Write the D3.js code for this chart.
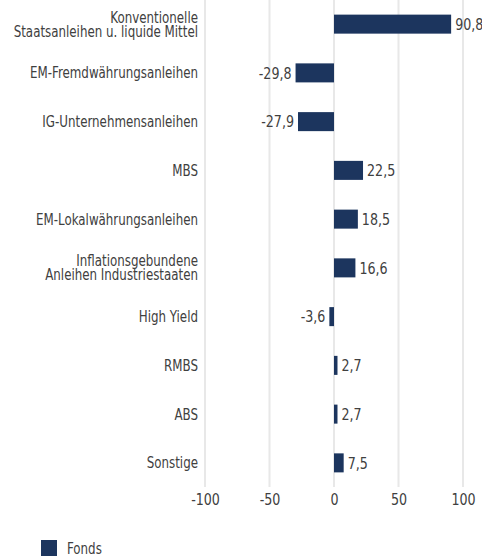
<!DOCTYPE html>
<html><head><meta charset="utf-8">
<script src="https://cdn.jsdelivr.net/npm/d3@7"></script>
<style>
html,body{margin:0;padding:0;background:#fff;}
svg text{font-family:"DejaVu Sans Condensed","DejaVu Sans",sans-serif;font-stretch:condensed;fill:#404040;}
</style></head>
<body><svg id="c" width="482" height="560"></svg>
<script>
const categories = [
  ["Konventionelle","Staatsanleihen u. liquide Mittel"],
  ["EM-Fremdwährungsanleihen"],
  ["IG-Unternehmensanleihen"],
  ["MBS"],
  ["EM-Lokalwährungsanleihen"],
  ["Inflationsgebundene","Anleihen Industriestaaten"],
  ["High Yield"],
  ["RMBS"],
  ["ABS"],
  ["Sonstige"]
];
const values = [90.8, -29.8, -27.9, 22.5, 18.5, 16.6, -3.6, 2.7, 2.7, 7.5];
const ticks = [-100, -50, 0, 50, 100];
const seriesName = "Fonds";

const SX = 0.88;
const svg = d3.select("#c");
const x = d3.scaleLinear().domain([-100, 100]).range([205, 463]);
const y = d3.scaleBand().domain(d3.range(categories.length)).range([0, 487]).paddingInner(0.61).paddingOuter(0.3);
const color = "#1c355e";
const fmt = v => d3.format(".1f")(v).replace(".", ",").replace("\u2212", "-");

// grid
svg.append("g").selectAll("line").data(ticks).join("line")
  .attr("x1", d => x(d)).attr("x2", d => x(d))
  .attr("y1", 0).attr("y2", 487)
  .attr("stroke", "#e8e8e8").attr("stroke-width", 2);

// axis
const ax = svg.append("g").attr("transform", "translate(0,487)")
  .call(d3.axisBottom(x).tickValues(ticks).tickSize(0).tickPadding(0).tickFormat(d => String(d)));
ax.select(".domain").remove();
ax.selectAll("text").attr("font-size", 16).attr("dy", null).attr("y", 18)
  .attr("font-family", null).attr("fill", "#404040")
  .attr("transform", `scale(${SX},1)`).attr("x", 0);

// bars
svg.append("g").selectAll("rect").data(values).join("rect")
  .attr("x", d => x(Math.min(0, d)))
  .attr("width", d => Math.abs(x(d) - x(0)))
  .attr("y", (d, i) => y(i))
  .attr("height", y.bandwidth())
  .attr("fill", color);

// value labels
svg.append("g").selectAll("text").data(values).join("text")
  .attr("transform", (d, i) => `translate(${d >= 0 ? x(d) + 4 : x(d) - 4},${y(i) + y.bandwidth() / 2}) scale(${SX},1)`)
  .attr("dy", "0.36em")
  .attr("text-anchor", d => d >= 0 ? "start" : "end")
  .attr("font-size", 16)
  .text(fmt);

// category labels
const cl = svg.append("g").selectAll("text").data(categories).join("text")
  .attr("text-anchor", "end")
  .attr("font-size", 15)
  .attr("transform", (d, i) => `translate(198,${y(i) + y.bandwidth() / 2}) scale(${SX},1)`);
cl.each(function(lines) {
  const t = d3.select(this);
  const n = lines.length;
  lines.forEach((s, k) => {
    t.append("tspan").attr("x", 0)
      .attr("y", (k - (n - 1) / 2) * 14)
      .attr("dy", "0.36em").text(s);
  });
});

// legend
const lg = svg.append("g").attr("transform", "translate(41,540)");
lg.append("rect").attr("width", 16).attr("height", 16).attr("fill", color);
lg.append("text").attr("transform", `translate(26,9) scale(${SX},1)`).attr("dy", "0.36em").attr("font-size", 15).text(seriesName);
</script></body></html>
